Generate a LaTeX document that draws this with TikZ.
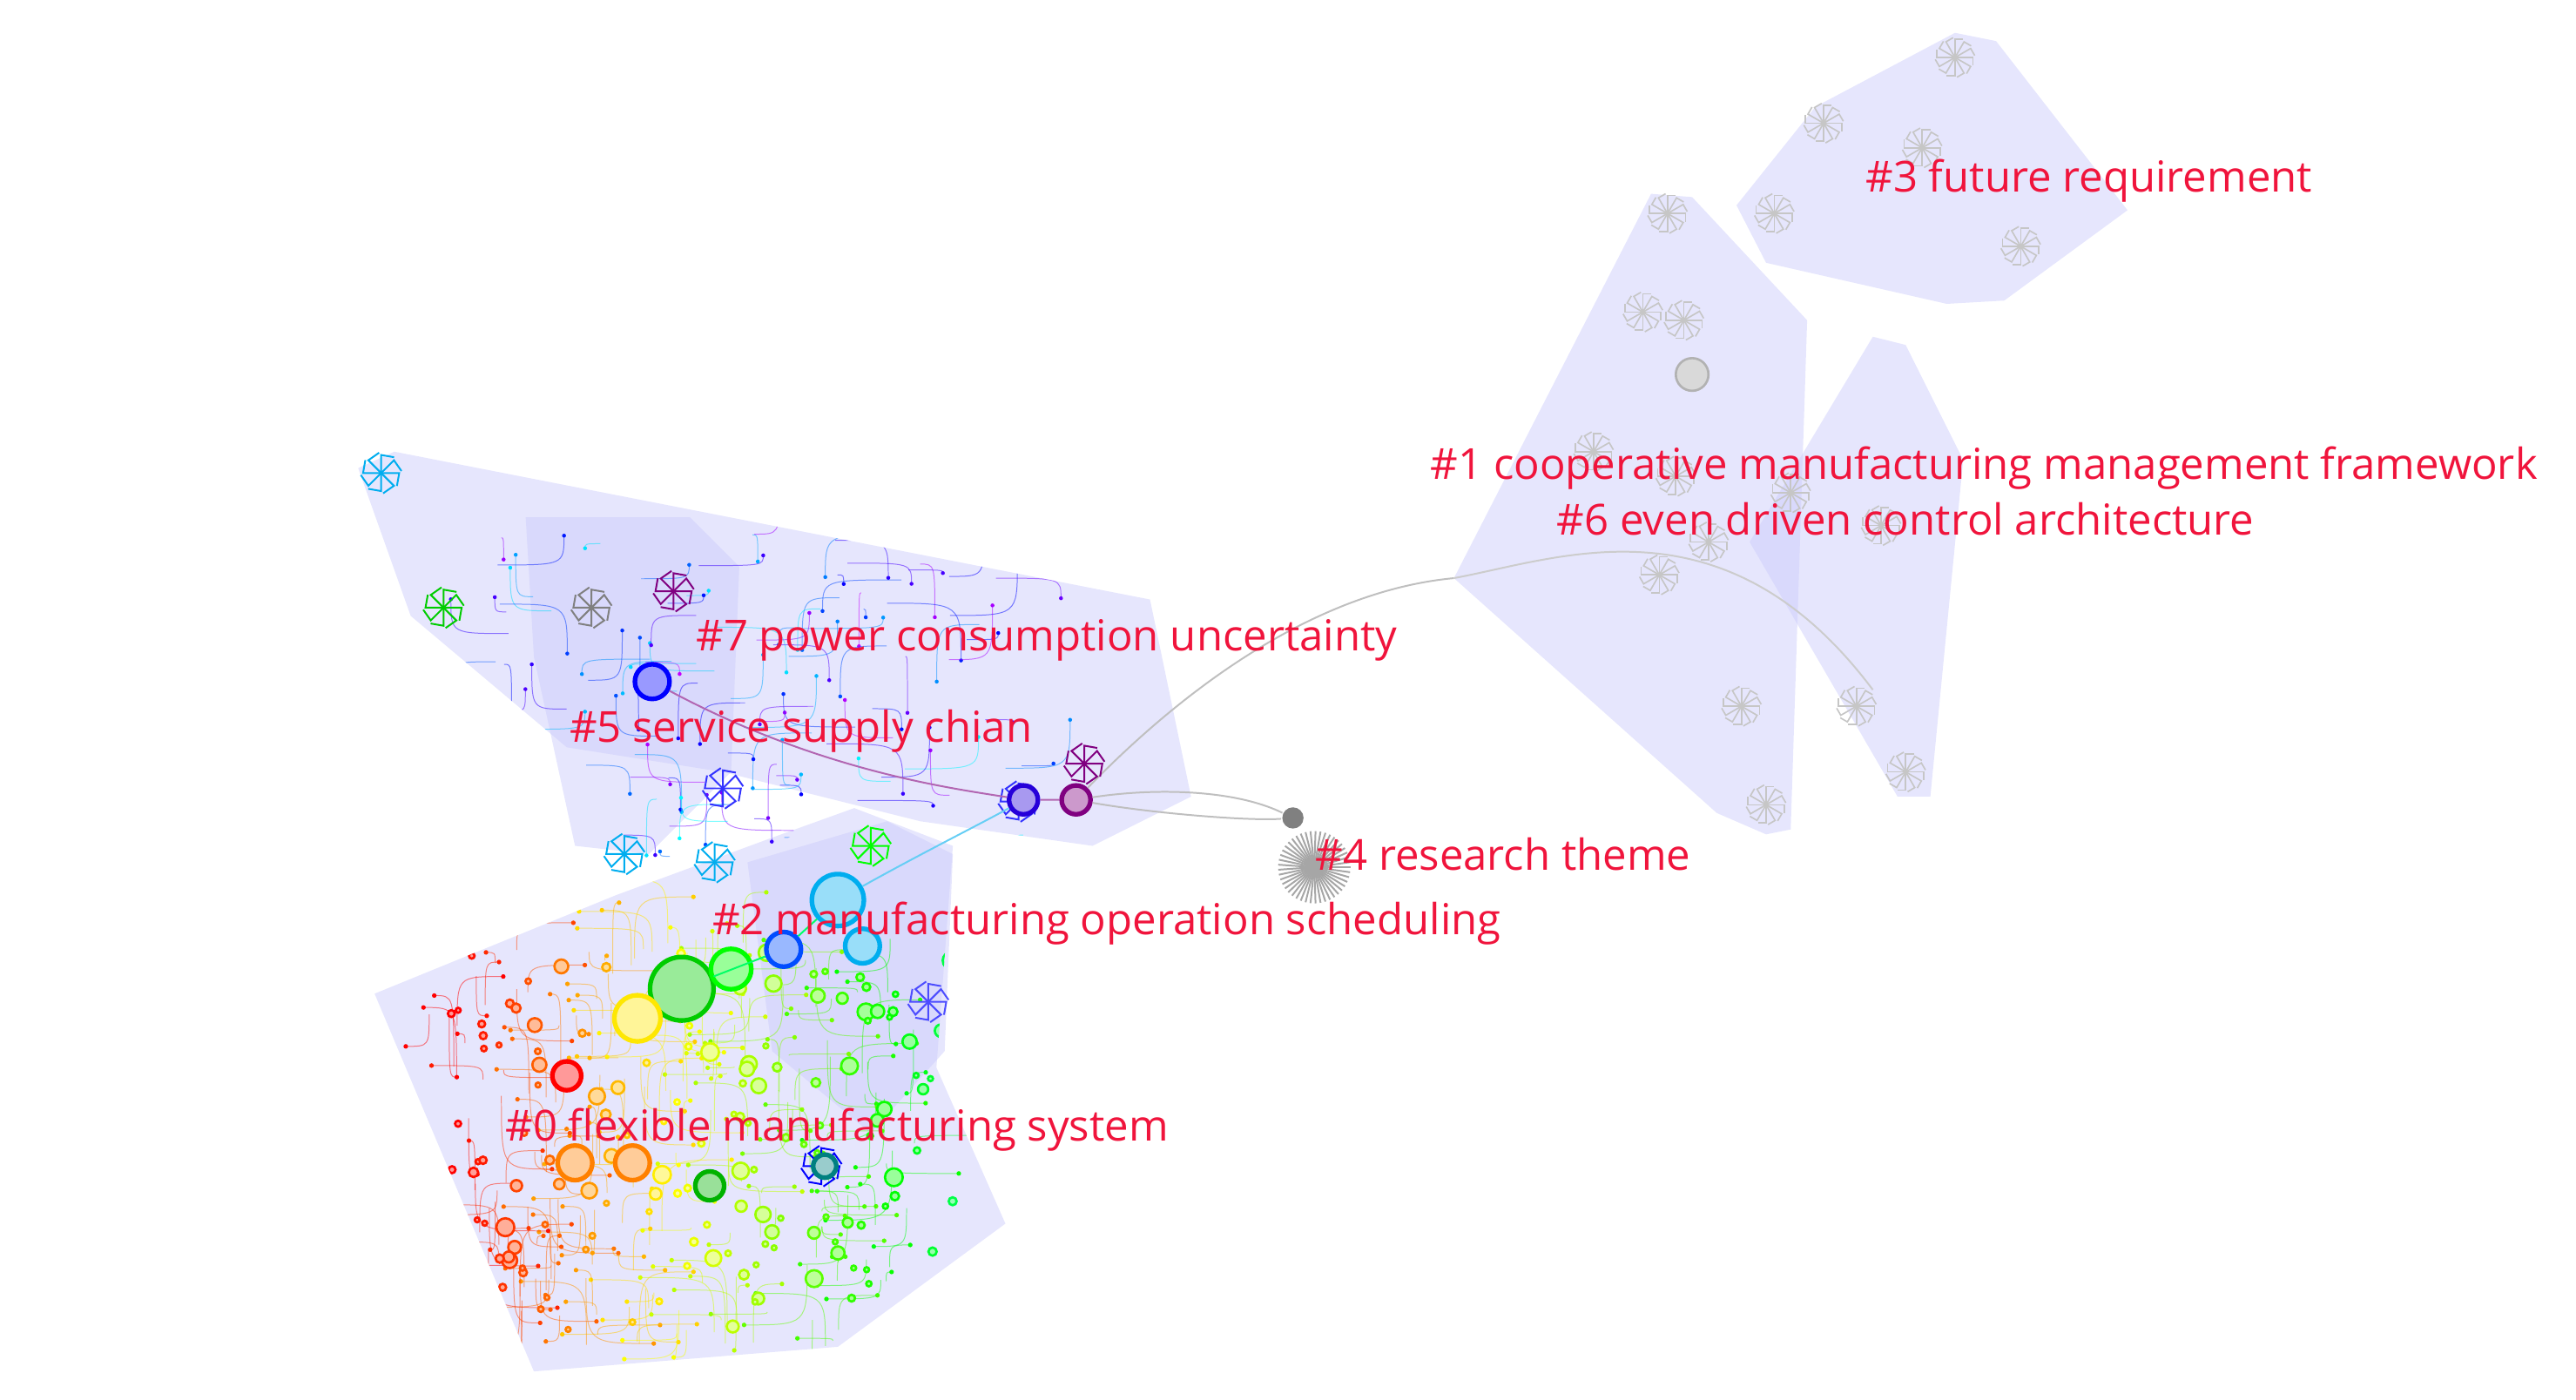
\documentclass[tikz,border=0pt]{standalone}
\usepackage{fontspec}
\setmainfont{Open Sans}
\newcommand\huecol[1]{%
  \pgfmathsetmacro\hr{max(0,min(1,abs(6*#1-3)-1))}%
  \pgfmathsetmacro\hg{max(0,min(1,2-abs(6*#1-2)))}%
  \pgfmathsetmacro\hb{max(0,min(1,2-abs(6*#1-4)))}%
  \definecolor{cc}{rgb}{\hr,\hg,\hb}}
\begin{document}
\begin{tikzpicture}[x=0.01cm,y=-0.01cm,
  hull/.style={fill={rgb,255:red,200;green,200;blue,250},fill opacity=0.45,draw=none},
  lab/.style={text={rgb,255:red,240;green,20;blue,60},font=\fontsize{7.4}{9}\selectfont,anchor=west,inner sep=0pt},
  hub/.style={circle,inner sep=0pt,draw=#1,line width=0.8pt,fill=#1!40}]
\useasboundingbox (0,0) rectangle (1568,852);
% hulls
\path[hull] (1057,125)--(1105,65)--(1190,20)--(1215,25)--(1295,128)--(1220,183)--(1185,185)--(1075,160)--cycle;
\path[hull] (885,352)--(1005,118)--(1030,120)--(1100,195)--(1090,505)--(1075,508)--(1045,495)--cycle;
\path[hull] (1065,330)--(1140,205)--(1160,210)--(1195,280)--(1175,485)--(1155,485)--cycle;
\path[hull] (218,285)--(240,275)--(700,365)--(725,485)--(665,515)--(560,500)--(520,490)--(440,470)--(345,455)--(250,375)--cycle;
\path[hull] (320,315)--(420,315)--(450,345)--(445,470)--(395,520)--(350,515)--(325,400)--cycle;
\path[hull] (228,605)--(375,545)--(470,510)--(520,492)--(580,515)--(570,650)--(612,745)--(510,820)--(325,835)--cycle;
\path[hull] (455,525)--(540,500)--(580,520)--(575,640)--(530,690)--(470,640)--cycle;
% long connectors
\node[circle,fill=gray,inner sep=1.3pt] (n4) at (787,498) {};
\node[hub=violet,minimum size=5pt] (h7) at (655,487) {};
\coordinate (g1) at (885,352);
\coordinate (g2) at (1140,420);
\draw[gray!50,line width=0.3pt] (h7) .. controls (720,420) and (800,360) .. (g1);
\draw[gray!50,line width=0.3pt] (h7) .. controls (700,480) and (750,480) .. (n4);
\draw[gray!50,line width=0.3pt] (h7) .. controls (700,495) and (760,500) .. (n4);
\draw[gray!40,line width=0.3pt] (g1) .. controls (950,340) and (1050,300) .. (g2);
% #4 starburst
\foreach \a in {0,8,...,359}{\draw[gray!70,line width=0.3pt] (800,528) -- ++(\a:22);}
% gray cluster mini stars
\foreach \cx/\cy in {1015/130,1025/195,1110/75,1190/35,1170/90,970/275,1040/330,1010/350,1060/430,1145/320,1160/470,1075/490,1130/430,1080/130,1230/150,1000/190,1020/290,1090/300}{
  \foreach \a in {0,30,...,359}{\draw[gray!45,line width=0.25pt] (\cx,\cy) -- ++(\a:11) -- ++(\a+90:5);}}
\node[circle,draw=gray!60,fill=gray!30,inner sep=2pt] (gh) at (1030,228) {};
% random edges and nodes, cluster 0 region
\pgfmathsetseed{7}
\begin{scope}
\clip (228,605)--(375,545)--(470,510)--(520,492)--(580,515)--(570,650)--(612,745)--(510,820)--(325,835)--cycle;
\foreach \i in {1,...,260}{
  \pgfmathsetmacro\xa{260+300*rnd}\pgfmathsetmacro\ya{570+250*rnd}
  \pgfmathsetmacro\xb{\xa+90*(rnd-0.5)}\pgfmathsetmacro\yb{\ya+90*(rnd-0.5)}
  \pgfmathsetmacro\h{max(0,min(0.38,(\xa-280)/300*0.38))}
  \huecol{\h}
  \draw[cc,line width=0.15pt,opacity=0.5] (\xa,\ya) .. controls (\xa,\yb) .. (\xb,\yb);
  \fill[cc] (\xb,\yb) circle (1.4);}
\foreach \i in {1,...,150}{
  \pgfmathsetmacro\xa{270+310*rnd}\pgfmathsetmacro\ya{580+230*rnd}
  \pgfmathsetmacro\h{max(0,min(0.38,(\xa-280)/300*0.38))}
  \pgfmathsetmacro\r{1.5+4*rnd^3}
  \huecol{\h}
  \draw[cc,line width=0.4pt,fill=cc!40] (\xa,\ya) circle (\r);}
\end{scope}
\begin{scope}
\clip (218,285)--(240,275)--(700,365)--(725,485)--(665,515)--(560,500)--(520,490)--(460,520)--(400,540)--(345,455)--(250,375)--cycle;
\foreach \i in {1,...,110}{
  \pgfmathsetmacro\xa{300+330*rnd}\pgfmathsetmacro\ya{310+220*rnd}
  \pgfmathsetmacro\xb{\xa+100*(rnd-0.5)}\pgfmathsetmacro\yb{\ya+70*(rnd-0.5)}
  \pgfmathsetmacro\h{0.5+0.3*rnd}
  \huecol{\h}
  \draw[cc,line width=0.15pt,opacity=0.5] (\xa,\ya) .. controls (\xb,\ya) .. (\xb,\yb);
  \fill[cc] (\xb,\yb) circle (1.2);}
\end{scope}
% mini clusters
\foreach \cx/\cy/\c in {232/288/cyan,270/370/green!80!black,440/480/blue!80,435/525/cyan,380/520/cyan,530/515/green,620/488/blue!80,410/360/violet,360/370/gray,565/610/blue!70,500/710/blue,660/465/violet}{
  \foreach \a in {0,45,...,359}{\draw[\c,line width=0.3pt] (\cx,\cy) -- ++(\a:11) -- ++(\a+100:8);}}
% hubs
\node[hub=blue,minimum size=6pt] (b5) at (397,415) {};
\node[hub=cyan,minimum size=9pt] (c1) at (510,548) {};
\node[hub=cyan,minimum size=6pt] (c2) at (525,576) {};
\node[hub=blue!70!cyan,minimum size=6pt] (c3) at (477,578) {};
\node[hub=green!80!black,minimum size=11pt] (g0) at (415,602) {};
\node[hub=green,minimum size=7pt] (g9) at (445,590) {};
\node[hub=yellow!90!orange,minimum size=8pt] (y0) at (388,620) {};
\node[hub=orange,minimum size=6pt] (o1) at (350,708) {};
\node[hub=orange,minimum size=6pt] (o2) at (385,708) {};
\node[hub=red,minimum size=5pt] (r1) at (345,655) {};
\node[hub=green!70!black,minimum size=5pt] (g3) at (432,722) {};
\node[hub=teal,minimum size=4pt] (t1) at (502,710) {};
\node[hub=blue!70!violet,minimum size=5pt] (bb) at (623,487) {};
\draw[violet!60,line width=0.3pt] (b5) .. controls (500,470) and (580,480) .. (bb) -- (h7);
\draw[cyan!60,line width=0.3pt] (c1) .. controls (560,520) and (600,500) .. (bb);
\draw[green!60!cyan,line width=0.3pt] (g0) -- (c3) -- (c1);
% labels
\node[lab] at (1135,110) {\#3 future requirement};
\node[lab] at (870,285) {\#1 cooperative manufacturing management framework};
\node[lab] at (947,316) {\#6 even driven control architecture};
\node[lab] at (423,390) {\#7 power consumption uncertainty};
\node[lab] at (346,445) {\#5 service supply chian};
\node[lab] at (800,520) {\#4 research theme};
\node[lab] at (433,562) {\#2 manufacturing operation scheduling};
\node[lab] at (307,688) {\#0 flexible manufacturing system};
\end{tikzpicture}
\end{document}
